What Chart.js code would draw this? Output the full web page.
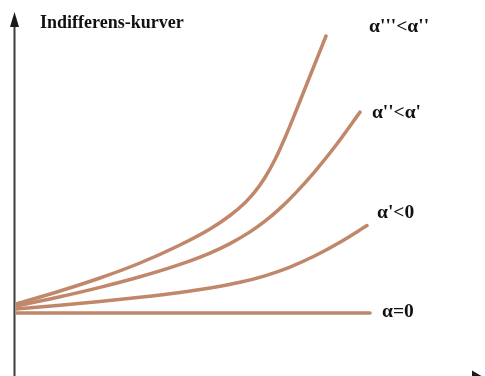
<!DOCTYPE html>
<html>
<head>
<meta charset="utf-8">
<script src="https://cdn.jsdelivr.net/npm/chart.js@4/dist/chart.umd.min.js"></script>
<style>
  html, body { margin: 0; padding: 0; background: #ffffff; }
  #wrap { width: 485px; height: 376px; }
</style>
</head>
<body>
<div id="wrap"><canvas id="c" width="485" height="376"></canvas></div>
<script>
// ---- data (arbitrary utility units 0..100) ----
const titleText = "Indifferens-kurver";
const seriesNames = ["α'''<α''", "α''<α'", "α'<0", "α=0"];

const curve1X = [0, 9.48, 18.10, 26.72, 35.34, 41.81, 46.12, 49.35, 51.51, 53.66, 55.82, 57.97, 60.13, 63.36, 66.81];
const curve1Y = [20.69, 24.43, 28.16, 32.47, 37.64, 42.24, 46.12, 49.80, 52.96, 57.04, 62.21, 68.48, 75.43, 86.21, 97.70];

const curve2X = [0, 9.48, 18.10, 26.72, 35.34, 41.81, 46.12, 50.43, 53.66, 56.90, 60.13, 64.44, 68.75, 74.14];
const curve2Y = [20.11, 22.76, 25.46, 28.51, 32.07, 35.34, 38.05, 41.41, 44.48, 48.16, 52.41, 58.82, 65.95, 75.83];

const curve3X = [0, 9.48, 18.10, 26.72, 35.34, 41.81, 48.28, 53.66, 59.05, 64.44, 69.83, 75.65];
const curve3Y = [19.25, 20.34, 21.44, 22.64, 24.02, 25.29, 26.93, 28.79, 31.29, 34.54, 38.42, 43.22];

const curve4X = [0, 76.3];
const curve4Y = [18.1, 18.1];

// label anchors (left edge, baseline) in data units
const labelX = [76.1, 76.7, 77.8, 78.9];
const labelY = [98.9, 74.1, 45.4, 17.0];

// ---- build ----
function pts(xs, ys) { return xs.map((x, i) => ({ x: x, y: ys[i] })); }
const lineColor = '#C0876B';
const allX = [curve1X, curve2X, curve3X, curve4X];
const allY = [curve1Y, curve2Y, curve3Y, curve4Y];

const datasets = allX.map((xs, i) => ({
  label: seriesNames[i],
  data: pts(xs, allY[i]),
  borderColor: lineColor,
  borderWidth: 3.5,
  borderCapStyle: 'round',
  borderJoinStyle: 'round',
  pointRadius: 0,
  cubicInterpolationMode: 'monotone',
  fill: false
}));

const decor = {
  id: 'decor',
  afterDatasetsDraw(chart) {
    const ctx = chart.ctx;
    const xs = chart.scales.x, ys = chart.scales.y;
    ctx.save();
    // y axis with arrow
    const ax = 14.5;
    ctx.strokeStyle = '#3a3a3a';
    ctx.fillStyle = '#1a1a1a';
    ctx.lineWidth = 2;
    ctx.beginPath();
    ctx.moveTo(ax, 380);
    ctx.lineTo(ax, 22);
    ctx.stroke();
    ctx.beginPath();
    ctx.moveTo(ax, 12);
    ctx.lineTo(ax - 4.5, 27);
    ctx.lineTo(ax + 4.5, 27);
    ctx.closePath();
    ctx.fill();
    // x axis (just below the visible area) with arrow
    ctx.beginPath();
    ctx.moveTo(ax, 381);
    ctx.lineTo(476, 381);
    ctx.stroke();
    ctx.beginPath();
    ctx.moveTo(490, 381);
    ctx.lineTo(472, 370.5);
    ctx.lineTo(472, 391.5);
    ctx.closePath();
    ctx.fill();

    // texts
    ctx.fillStyle = '#111111';
    ctx.textAlign = 'left';
    ctx.textBaseline = 'alphabetic';
    ctx.font = 'bold 18px "Liberation Serif", "Times New Roman", serif';
    ctx.fillText(titleText, 40, 28);
    ctx.font = 'bold 19.5px "Liberation Serif", "Times New Roman", serif';
    for (let i = 0; i < seriesNames.length; i++) {
      ctx.fillText(seriesNames[i], xs.getPixelForValue(labelX[i]), ys.getPixelForValue(labelY[i]));
    }
    ctx.restore();
  }
};

new Chart(document.getElementById('c'), {
  type: 'line',
  data: { datasets: datasets },
  options: {
    responsive: false,
    animation: false,
    layout: { padding: { left: 16, right: 5, top: 28, bottom: 0 } },
    plugins: { legend: { display: false }, tooltip: { enabled: false }, title: { display: false } },
    scales: {
      x: { type: 'linear', min: 0, max: 100, display: false },
      y: { type: 'linear', min: 0, max: 100, display: false }
    }
  },
  plugins: [decor]
});
</script>
</body>
</html>
